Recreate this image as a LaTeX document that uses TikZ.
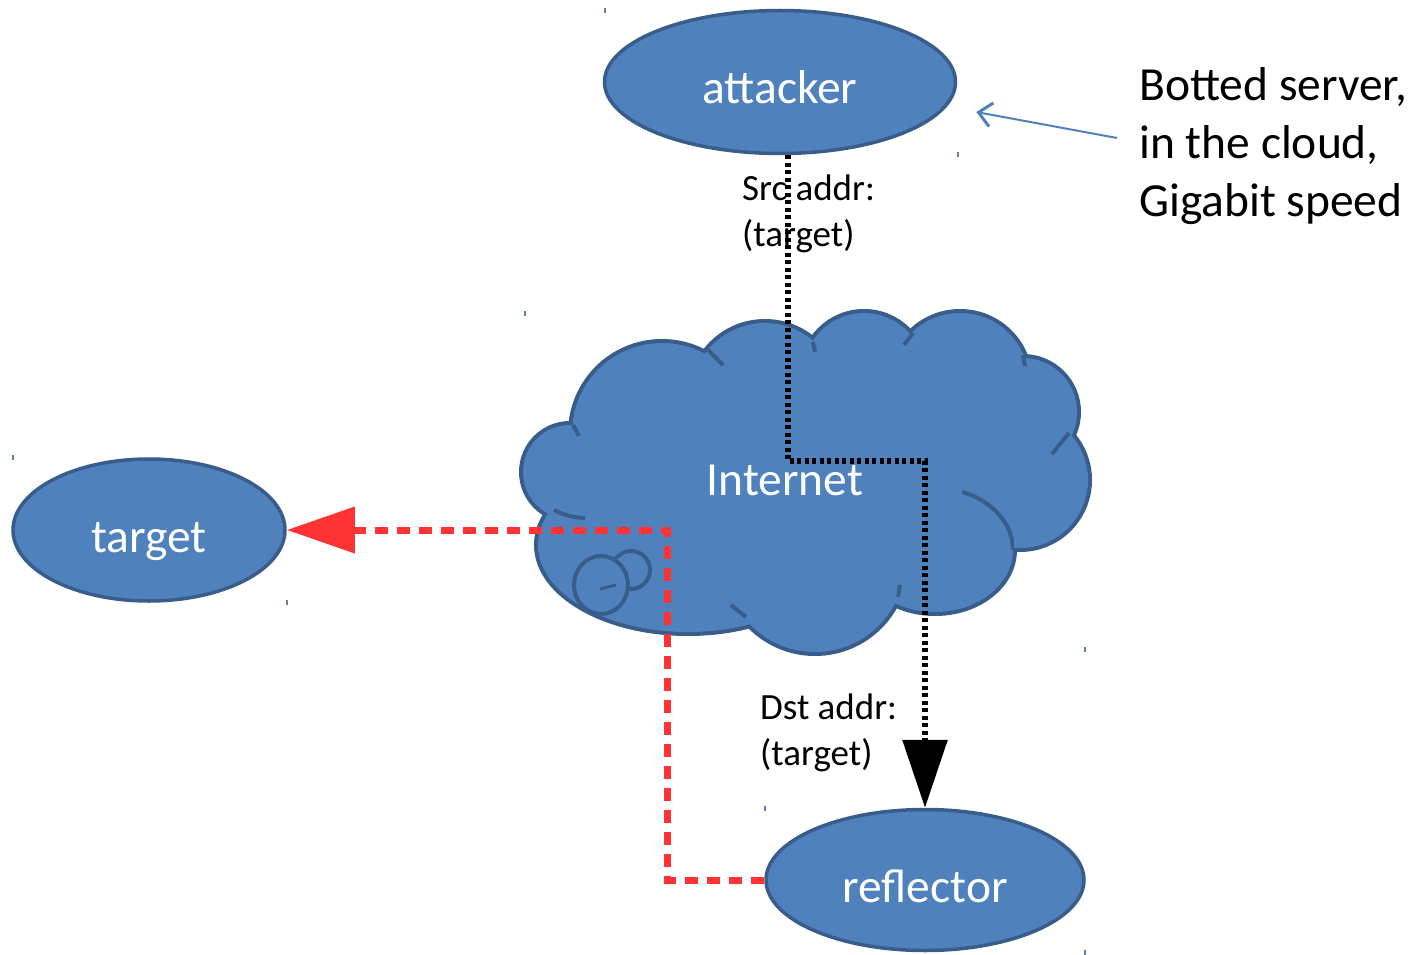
\documentclass[tikz,border=0pt]{standalone}
\usepackage{fontspec}
\setmainfont{Carlito}
\usetikzlibrary{shapes.geometric,arrows.meta,calc}
\definecolor{nodefill}{HTML}{4F81BD}
\definecolor{nodeline}{HTML}{385D8A}
\definecolor{redline}{HTML}{FF3333}
\begin{document}
\begin{tikzpicture}[x=1pt,y=-1pt,
  blob/.style={ellipse, fill=nodefill, draw=nodeline, line width=3.5pt, inner sep=0pt, text=white, text height=44pt, text depth=0pt, font=\fontsize{47.5}{57}\selectfont},
  lbl/.style={align=left, anchor=west, inner sep=0pt, font=\fontsize{37}{46}\selectfont},
  note/.style={align=left, anchor=west, inner sep=0pt, font=\fontsize{47.5}{58}\selectfont},
  cloudline/.style={draw=nodeline, line width=4pt},
  tickmark/.style={draw=nodefill!70!gray, line width=1.2pt},
  blackpath/.style={line width=6pt, dash pattern=on 4pt off 3.5pt, -{Triangle[length=68pt,width=44pt]}},
  redpath/.style={redline, line width=7pt, dash pattern=on 13pt off 9pt, -{Triangle[length=68pt,width=45pt]}},
  notearrow/.style={nodefill, line width=2pt, -{Straight Barb[length=13pt,width=24pt,line width=3pt]}}
]
\useasboundingbox (0,0) rectangle (1414,955);

% ---- cloud ----
\foreach \cx/\cy/\rx/\ry in {570/472/47/47, 662/433/90/90, 765/397/74/74, 864/374/61/61, 960/382/69/69, 1023/412/54/54, 1020/480/68/68, 935/550/78/62, 815/562/90/90, 688/545/150/87}
  \draw[draw=nodeline, line width=8pt] (\cx,\cy) ellipse[x radius=\rx, y radius=\ry];
\foreach \cx/\cy/\rx/\ry in {570/472/47/47, 662/433/90/90, 765/397/74/74, 864/374/61/61, 960/382/69/69, 1023/412/54/54, 1020/480/68/68, 935/550/78/62, 815/562/90/90, 688/545/150/87}
  \fill[nodefill] (\cx,\cy) ellipse[x radius=\rx, y radius=\ry];
\fill[nodefill] (570,472) -- (662,433) -- (765,397) -- (864,374) -- (960,382) -- (1023,412) -- (1020,480) -- (935,550) -- (815,562) -- (688,545) -- cycle;
% inner stubs
\draw[cloudline] (573,425) -- (579,436);
\draw[cloudline] (708,350) -- (723,365);
\draw[cloudline] (813,342) -- (815,352);
\draw[cloudline] (913,333) -- (904,345);
\draw[cloudline] (1023,355) -- (1025,366);
\draw[cloudline] (1069,433) -- (1052,454);
\draw[cloudline] (898,597) -- (900,585);
\draw[cloudline] (746,617) -- (731,605);
\draw[cloudline] (554,510) to[bend right=12] (585,518);
\begin{scope}
  \clip (962,486) rectangle (1014,549);
  \draw[cloudline] (935,550) ellipse[x radius=78, y radius=62];
\end{scope}
% small circles
\draw[cloudline, fill=nodefill] (631,570) circle[radius=19];
\draw[cloudline, fill=nodefill] (601,585) ellipse[x radius=27, y radius=29];
\draw[cloudline, line width=3pt] (600,589) -- (616,585);

% ---- nodes ----
\node[blob, minimum width=351pt, minimum height=143pt] (attacker) at (780,82) {attacker};
\node[blob, minimum width=272pt, minimum height=142pt] (target) at (149,530) {target};
\node[blob, minimum width=318pt, minimum height=141pt] (reflector) at (925,880) {reflector};
\node[text=white, inner sep=0pt, font=\fontsize{47.5}{57}\selectfont] (internet) at (785,480) {Internet};
\node[note] (note) at (1139,146) {Botted server,\\in the cloud,\\Gigabit speed};
\node[lbl] (src) at (742,214) {Src addr:\\(target)};
\node[lbl] (dst) at (760,733) {Dst addr:\\(target)};

% ---- connectors ----
\draw[blackpath] ($(attacker.south)+(8,0)$) -- ++(0,306) -| (reflector.north);
\draw[redpath] (reflector.west) -- ++(-97,0) |- (target.east);
\draw[notearrow] ($(note.west)+(-22,-8)$) -- ($(attacker.east)+(19,30)$);

% ---- selection tick marks ----
\foreach \tx/\ty in {605/8, 958/152, 525/311, 1085/647, 13/455, 287/600, 765/806, 1085/950}
  \draw[tickmark] (\tx,\ty) -- ++(0,5);
\end{tikzpicture}
\end{document}
